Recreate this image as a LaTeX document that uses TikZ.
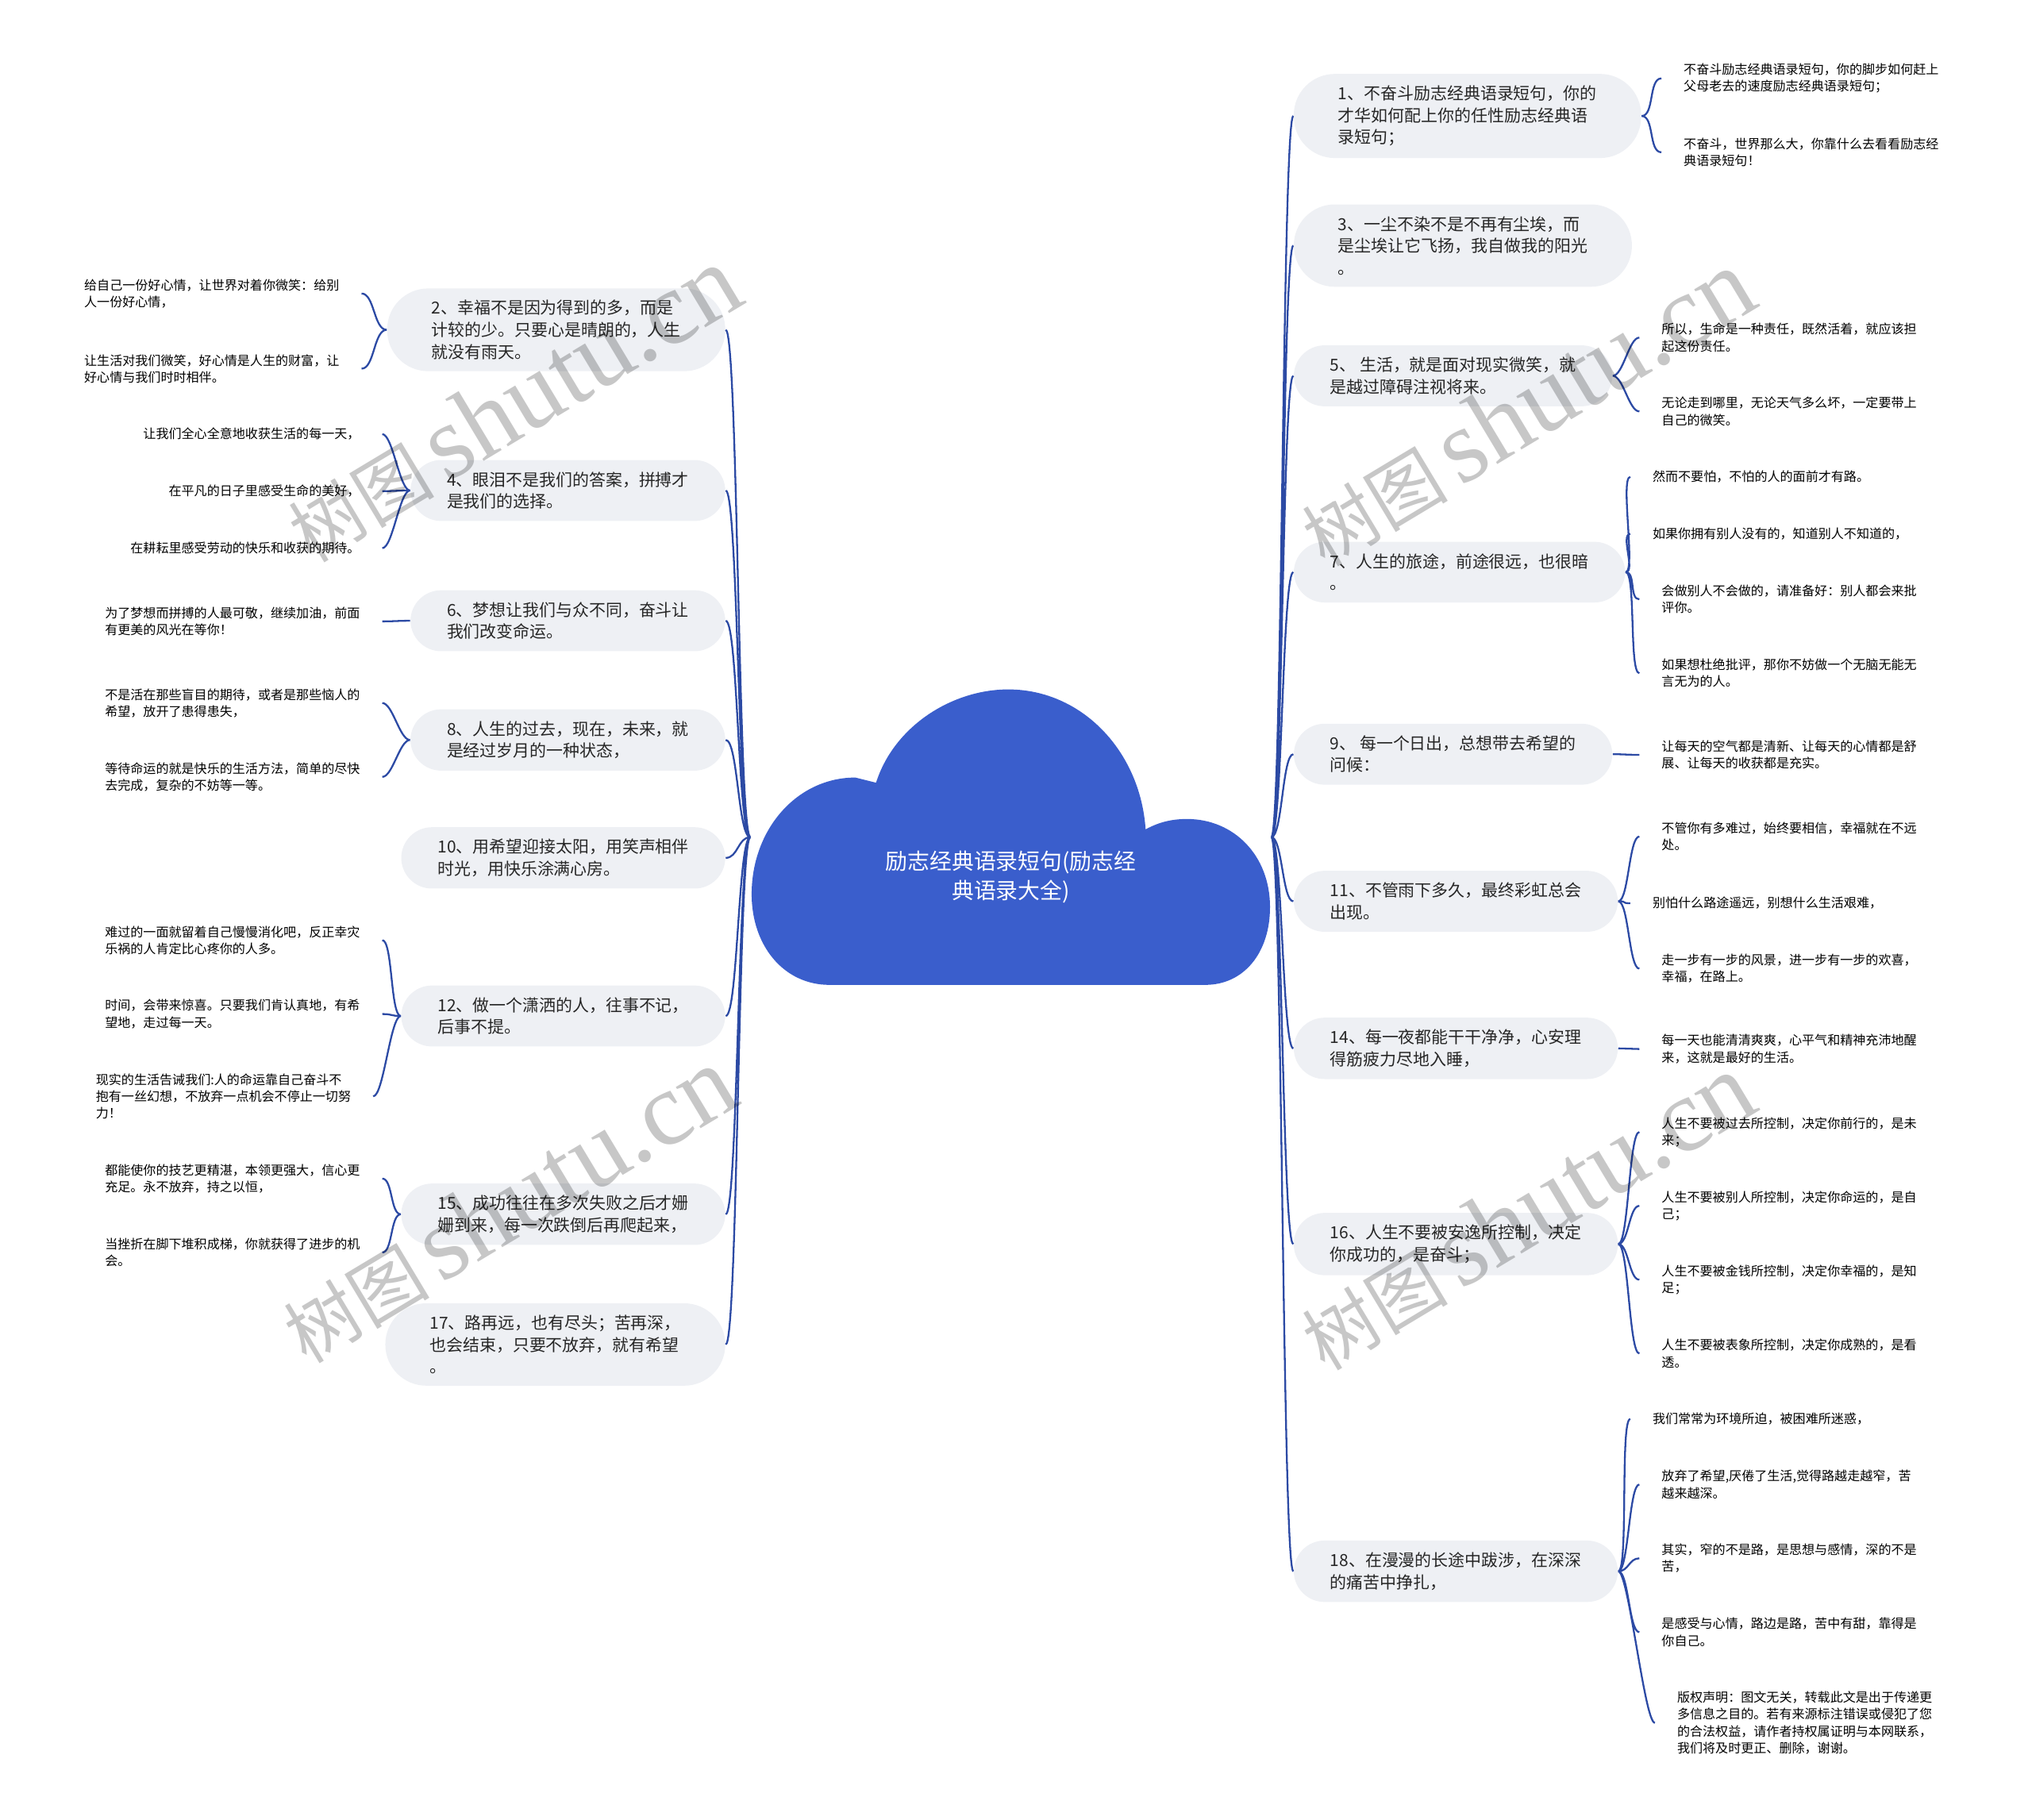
\documentclass[tikz,border=0pt]{standalone}
\usepackage{fontspec}
\setmainfont{Noto Sans CJK SC}
\newfontfamily\wmfont{Liberation Serif}
\usepackage{tikz}
\usetikzlibrary{positioning}

\definecolor{cloudblue}{RGB}{58,94,204}
\definecolor{linkblue}{RGB}{44,74,164}
\definecolor{pillgray}{RGB}{238,240,244}
\definecolor{textgray}{RGB}{38,38,38}

\begin{document}
\begin{tikzpicture}[x=0.02cm,y=-0.02cm,
    topic/.style={fill=pillgray,rounded corners=13.5pt,inner xsep=16pt,inner ysep=5.2pt,align=left,text=textgray,font=\fontsize{7.3}{9.6}\selectfont},
    topic3/.style={topic,rounded corners=18pt,inner xsep=19.5pt},
    leaf/.style={inner xsep=9.6pt,inner ysep=1pt,align=left,text=black,font=\fontsize{5.6}{7.4}\selectfont},
    link/.style={draw=linkblue,line width=0.8pt},
    wmark/.style={text=black,opacity=0.22,rotate=31,inner sep=0pt}]
    \useasboundingbox (0,0) rectangle (1568,1404);

    % cloud
    \fill[cloudblue] (580,690) .. controls (580,640) and (615,600) .. (660,600)
      -- (676,604) .. controls (690,560) and (735,532) .. (778,532)
      .. controls (835,532) and (880,580) .. (884,640)
      .. controls (895,634) and (905,632) .. (916,632)
      .. controls (952,632) and (980,660) .. (980,700)
      .. controls (980,735) and (960,760) .. (930,760)
      -- (640,760) .. controls (605,760) and (580,730) .. (580,690) -- cycle;
    \node[text=white,align=center,font=\fontsize{9.7}{13}\selectfont] (root) at (780,677) {励志经典语录短句(励志经\\典语录大全)};
    \coordinate (cl) at (579,646);
    \coordinate (cr) at (981,646);

    % right topics
    \node[topic3,anchor=west] (n1) at (998,89.5) {1、不奋斗励志经典语录短句，你的\\才华如何配上你的任性励志经典语\\录短句；};
    \node[topic3,anchor=west] (n3) at (998,189.5) {3、一尘不染不是不再有尘埃，而\\是尘埃让它飞扬，我自做我的阳光\\。};
    \node[topic,anchor=west] (n5) at (998,290) {5、 生活，就是面对现实微笑，就\\是越过障碍注视将来。};
    \node[topic,anchor=west] (n7) at (998,441.5) {7、人生的旅途，前途很远，也很暗\\。};
    \node[topic,anchor=west] (n9) at (998,582) {9、 每一个日出，总想带去希望的\\问候：};
    \node[topic,anchor=west] (n11) at (998,695.5) {11、不管雨下多久，最终彩虹总会\\出现。};
    \node[topic,anchor=west] (n14) at (998,809) {14、每一夜都能干干净净，心安理\\得筋疲力尽地入睡，};
    \node[topic,anchor=west] (n16) at (998,960) {16、人生不要被安逸所控制，决定\\你成功的，是奋斗；};
    \node[topic,anchor=west] (n18) at (998,1212.5) {18、在漫漫的长途中跋涉，在深深\\的痛苦中挣扎，};

    % left topics
    \node[topic3,anchor=east] (n2) at (560,254.5) {2、幸福不是因为得到的多，而是\\计较的少。只要心是晴朗的，人生\\就没有雨天。};
    \node[topic,anchor=east] (n4) at (560,378.5) {4、眼泪不是我们的答案，拼搏才\\是我们的选择。};
    \node[topic,anchor=east] (n6) at (560,479) {6、梦想让我们与众不同，奋斗让\\我们改变命运。};
    \node[topic,anchor=east] (n8) at (560,571) {8、人生的过去，现在，未来，就\\是经过岁月的一种状态，};
    \node[topic,anchor=east] (n10) at (560,662) {10、用希望迎接太阳，用笑声相伴\\时光，用快乐涂满心房。};
    \node[topic,anchor=east] (n12) at (560,784) {12、做一个潇洒的人，往事不记，\\后事不提。};
    \node[topic,anchor=east] (n15) at (560,937) {15、成功往往在多次失败之后才姗\\姗到来，每一次跌倒后再爬起来，};
    \node[topic3,anchor=east] (n17) at (560,1037.5) {17、路再远，也有尽头；苦再深，\\也会结束，只要不放弃，就有希望\\。};

    % right leaves
    \node[leaf,anchor=west] (l1a) at (1282,60.5) {不奋斗励志经典语录短句，你的脚步如何赶上\\父母老去的速度励志经典语录短句；};
    \node[leaf,anchor=west] (l1b) at (1282,117.5) {不奋斗，世界那么大，你靠什么去看看励志经\\典语录短句！};
    \node[leaf,anchor=west] (l5a) at (1265,260.5) {所以，生命是一种责任，既然活着，就应该担\\起这份责任。};
    \node[leaf,anchor=west] (l5b) at (1265,317.5) {无论走到哪里，无论天气多么坏，一定要带上\\自己的微笑。};
    \node[leaf,anchor=west] (l7a) at (1258,368) {然而不要怕，不怕的人的面前才有路。};
    \node[leaf,anchor=west] (l7b) at (1258,412) {如果你拥有别人没有的，知道别人不知道的，};
    \node[leaf,anchor=west] (l7c) at (1265,462.5) {会做别人不会做的，请准备好：别人都会来批\\评你。};
    \node[leaf,anchor=west] (l7d) at (1265,519.5) {如果想杜绝批评，那你不妨做一个无脑无能无\\言无为的人。};
    \node[leaf,anchor=west] (l9a) at (1265,582.5) {让每天的空气都是清新、让每天的心情都是舒\\展、让每天的收获都是充实。};
    \node[leaf,anchor=west] (l11a) at (1265,645.5) {不管你有多难过，始终要相信，幸福就在不远\\处。};
    \node[leaf,anchor=west] (l11b) at (1258,697) {别怕什么路途遥远，别想什么生活艰难，};
    \node[leaf,anchor=west] (l11c) at (1265,747.5) {走一步有一步的风景，进一步有一步的欢喜，\\幸福，在路上。};
    \node[leaf,anchor=west] (l14a) at (1265,809.5) {每一天也能清清爽爽，心平气和精神充沛地醒\\来，这就是最好的生活。};
    \node[leaf,anchor=west] (l16a) at (1265,873.5) {人生不要被过去所控制，决定你前行的，是未\\来；};
    \node[leaf,anchor=west] (l16b) at (1265,930.5) {人生不要被别人所控制，决定你命运的，是自\\己；};
    \node[leaf,anchor=west] (l16c) at (1265,987.5) {人生不要被金钱所控制，决定你幸福的，是知\\足；};
    \node[leaf,anchor=west] (l16d) at (1265,1044.5) {人生不要被表象所控制，决定你成熟的，是看\\透。};
    \node[leaf,anchor=west] (l18a) at (1258,1095) {我们常常为环境所迫，被困难所迷惑，};
    \node[leaf,anchor=west] (l18b) at (1265,1145.5) {放弃了希望,厌倦了生活,觉得路越走越窄，苦\\越来越深。};
    \node[leaf,anchor=west] (l18c) at (1265,1202.5) {其实，窄的不是路，是思想与感情，深的不是\\苦，};
    \node[leaf,anchor=west] (l18d) at (1265,1259.5) {是感受与心情，路边是路，苦中有甜，靠得是\\你自己。};
    \node[leaf,anchor=west] (l18e) at (1277,1329.5) {版权声明：图文无关，转载此文是出于传递更\\多信息之目的。若有来源标注错误或侵犯了您\\的合法权益，请作者持权属证明与本网联系，\\我们将及时更正、删除，谢谢。};

    % left leaves
    \node[leaf,anchor=east] (l2a) at (279,226.5) {给自己一份好心情，让世界对着你微笑：给别\\人一份好心情，};
    \node[leaf,anchor=east] (l2b) at (279,284.5) {让生活对我们微笑，好心情是人生的财富，让\\好心情与我们时时相伴。};
    \node[leaf,anchor=east] (l4a) at (295,335) {让我们全心全意地收获生活的每一天，};
    \node[leaf,anchor=east] (l4b) at (295,379) {在平凡的日子里感受生命的美好，};
    \node[leaf,anchor=east] (l4c) at (295,423) {在耕耘里感受劳动的快乐和收获的期待。};
    \node[leaf,anchor=east] (l6a) at (295,479.5) {为了梦想而拼搏的人最可敬，继续加油，前面\\有更美的风光在等你！};
    \node[leaf,anchor=east] (l8a) at (295,542.5) {不是活在那些盲目的期待，或者是那些恼人的\\希望，放开了患得患失，};
    \node[leaf,anchor=east] (l8b) at (295,599.5) {等待命运的就是快乐的生活方法，简单的尽快\\去完成，复杂的不妨等一等。};
    \node[leaf,anchor=east] (l12a) at (295,725.5) {难过的一面就留着自己慢慢消化吧，反正幸灾\\乐祸的人肯定比心疼你的人多。};
    \node[leaf,anchor=east] (l12b) at (295,782.5) {时间，会带来惊喜。只要我们肯认真地，有希\\望地，走过每一天。};
    \node[leaf,anchor=east] (l12c) at (288,846) {现实的生活告诫我们:人的命运靠自己奋斗不\\抱有一丝幻想，不放弃一点机会不停止一切努\\力！};
    \node[leaf,anchor=east] (l15a) at (295,909.5) {都能使你的技艺更精湛，本领更强大，信心更\\充足。永不放弃，持之以恒，};
    \node[leaf,anchor=east] (l15b) at (295,966.5) {当挫折在脚下堆积成梯，你就获得了进步的机\\会。};

    % root to topics
    \draw[link]
      (cr) .. controls +(8.5,0) and +(-8.5,0) .. (n1.west)
      (cr) .. controls +(8.5,0) and +(-8.5,0) .. (n3.west)
      (cr) .. controls +(8.5,0) and +(-8.5,0) .. (n5.west)
      (cr) .. controls +(8.5,0) and +(-8.5,0) .. (n7.west)
      (cr) .. controls +(8.5,0) and +(-8.5,0) .. (n9.west)
      (cr) .. controls +(8.5,0) and +(-8.5,0) .. (n11.west)
      (cr) .. controls +(8.5,0) and +(-8.5,0) .. (n14.west)
      (cr) .. controls +(8.5,0) and +(-8.5,0) .. (n16.west)
      (cr) .. controls +(8.5,0) and +(-8.5,0) .. (n18.west)
      (cl) .. controls +(-9.5,0) and +(9.5,0) .. (n2.east)
      (cl) .. controls +(-9.5,0) and +(9.5,0) .. (n4.east)
      (cl) .. controls +(-9.5,0) and +(9.5,0) .. (n6.east)
      (cl) .. controls +(-9.5,0) and +(9.5,0) .. (n8.east)
      (cl) .. controls +(-9.5,0) and +(9.5,0) .. (n10.east)
      (cl) .. controls +(-9.5,0) and +(9.5,0) .. (n12.east)
      (cl) .. controls +(-9.5,0) and +(9.5,0) .. (n15.east)
      (cl) .. controls +(-9.5,0) and +(9.5,0) .. (n17.east)
      ;

    % topics to leaves
    \draw[link]
      (n1.east) .. controls +(10,0) and +(-10,0) .. (l1a.west)
      (n1.east) .. controls +(10,0) and +(-10,0) .. (l1b.west)
      (n5.east) .. controls +(8,0) and +(-8,0) .. (l5a.west)
      (n5.east) .. controls +(8,0) and +(-8,0) .. (l5b.west)
      (n7.east) .. controls +(8,0) and +(-8,0) .. (l7a.west)
      (n7.east) .. controls +(8,0) and +(-8,0) .. (l7b.west)
      (n7.east) .. controls +(8,0) and +(-8,0) .. (l7c.west)
      (n7.east) .. controls +(8,0) and +(-8,0) .. (l7d.west)
      (n9.east) .. controls +(8,0) and +(-8,0) .. (l9a.west)
      (n11.east) .. controls +(8,0) and +(-8,0) .. (l11a.west)
      (n11.east) .. controls +(8,0) and +(-8,0) .. (l11b.west)
      (n11.east) .. controls +(8,0) and +(-8,0) .. (l11c.west)
      (n14.east) .. controls +(8,0) and +(-8,0) .. (l14a.west)
      (n16.east) .. controls +(8,0) and +(-8,0) .. (l16a.west)
      (n16.east) .. controls +(8,0) and +(-8,0) .. (l16b.west)
      (n16.east) .. controls +(8,0) and +(-8,0) .. (l16c.west)
      (n16.east) .. controls +(8,0) and +(-8,0) .. (l16d.west)
      (n18.east) .. controls +(8,0) and +(-8,0) .. (l18a.west)
      (n18.east) .. controls +(8,0) and +(-8,0) .. (l18b.west)
      (n18.east) .. controls +(8,0) and +(-8,0) .. (l18c.west)
      (n18.east) .. controls +(8,0) and +(-8,0) .. (l18d.west)
      (n18.east) .. controls +(8,0) and +(-8,0) .. (l18e.west)
      (n2.west) .. controls +(-10,0) and +(10,0) .. (l2a.east)
      (n2.west) .. controls +(-10,0) and +(10,0) .. (l2b.east)
      (n4.west) .. controls +(-8,0) and +(8,0) .. (l4a.east)
      (n4.west) .. controls +(-8,0) and +(8,0) .. (l4b.east)
      (n4.west) .. controls +(-8,0) and +(8,0) .. (l4c.east)
      (n6.west) .. controls +(-8,0) and +(8,0) .. (l6a.east)
      (n8.west) .. controls +(-8,0) and +(8,0) .. (l8a.east)
      (n8.west) .. controls +(-8,0) and +(8,0) .. (l8b.east)
      (n12.west) .. controls +(-8,0) and +(8,0) .. (l12a.east)
      (n12.west) .. controls +(-8,0) and +(8,0) .. (l12b.east)
      (n12.west) .. controls +(-8,0) and +(8,0) .. (l12c.east)
      (n15.west) .. controls +(-8,0) and +(8,0) .. (l15a.east)
      (n15.west) .. controls +(-8,0) and +(8,0) .. (l15b.east)
      ;

    % watermark
    \node[wmark] (wm1) at (396,312) {\fontsize{32}{32}\selectfont 树图\,{\wmfont\fontsize{46}{46}\selectfont shutu.cn}};
    \node[wmark] (wm2) at (1178,315) {\fontsize{32}{32}\selectfont 树图\,{\wmfont\fontsize{46}{46}\selectfont shutu.cn}};
    \node[wmark] (wm3) at (392,930) {\fontsize{32}{32}\selectfont 树图\,{\wmfont\fontsize{46}{46}\selectfont shutu.cn}};
    \node[wmark] (wm4) at (1178,935) {\fontsize{32}{32}\selectfont 树图\,{\wmfont\fontsize{46}{46}\selectfont shutu.cn}};
\end{tikzpicture}
\end{document}
